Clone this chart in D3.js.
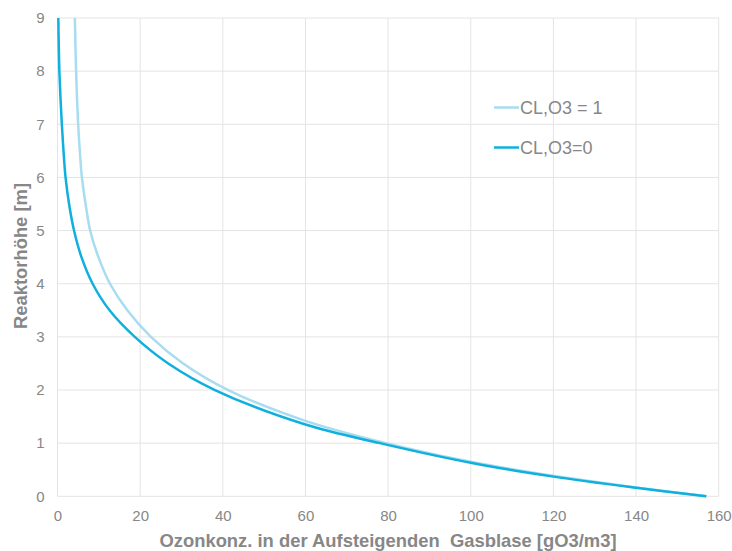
<!DOCTYPE html>
<html><head><meta charset="utf-8">
<script src="https://cdn.jsdelivr.net/npm/d3@7"></script>
<style>body{margin:0;background:#fff;}svg{display:block;font-family:"Liberation Sans",Arial,sans-serif;}</style>
</head><body>
<svg id="c" width="732" height="551"></svg>
<script>
const xTicks = [0,20,40,60,80,100,120,140,160];
const yTicks = [0,1,2,3,4,5,6,7,8,9];
const seriesNames = ["CL,O3 = 1", "CL,O3=0"];
// concentration (x) and height (y) pairs
const lightX = [157,140,120,100,79.5,60,41.3,30.4,22.6,16.9,12.7,9.9,7.9,6.8,5.9,5.4,5.0,4.5,4.2];
const lightY = [0,0.165,0.385,0.65,1,1.42,2,2.5,3,3.5,4,4.5,5,5.5,6,6.5,7,8,9];
const darkX = [157,140,120,100,78,60,38.1,26.8,18.7,12.6,8.5,5.8,4.0,2.8,1.95,1.45,1.05,0.72,0.45,0.3,0.2];
const darkY = [0,0.16,0.37,0.63,1,1.35,2,2.5,3,3.5,4,4.5,5,5.5,6,6.5,7,7.5,8,8.5,9];
const colors = ["#a8dcf0", "#0fb0dd"];

const svg = d3.select("#c");
const x = d3.scaleLinear().domain([0,160]).range([57.5,718.7]);
const y = d3.scaleLinear().domain([0,9]).range([496.3,18]);

const grid = svg.append("g");
grid.selectAll("line.v").data(xTicks).join("line")
  .attr("x1",d=>x(d)).attr("x2",d=>x(d)).attr("y1",y(9)).attr("y2",y(0))
  .attr("stroke","#e4e4e4").attr("stroke-width",1);
grid.selectAll("line.h").data(yTicks).join("line")
  .attr("x1",x(0)).attr("x2",x(160)).attr("y1",d=>y(d)).attr("y2",d=>y(d))
  .attr("stroke","#e4e4e4").attr("stroke-width",1);

const xAxis = svg.append("g").attr("transform",`translate(0,${y(0)})`)
  .call(d3.axisBottom(x).tickValues(xTicks).tickSize(0).tickPadding(14).tickFormat(d3.format("d")));
const yAxis = svg.append("g").attr("transform",`translate(${x(0)},0)`)
  .call(d3.axisLeft(y).tickValues(yTicks).tickSize(0).tickPadding(13).tickFormat(d3.format("d")));
[xAxis,yAxis].forEach(a=>{
  a.select(".domain").remove();
  a.selectAll("text").attr("fill","#878787").attr("font-size","15px").attr("font-family","Liberation Sans, Arial, sans-serif");
});

const line = d3.line().x(d=>x(d[0])).y(d=>y(d[1])).curve(d3.curveCatmullRom.alpha(0.5));
const sLight = lightX.map((v,i)=>[v,lightY[i]]).sort((a,b)=>a[1]-b[1]);
const sDark = darkX.map((v,i)=>[v,darkY[i]]).sort((a,b)=>a[1]-b[1]);
svg.append("path").datum(sLight).attr("d",line).attr("fill","none").attr("stroke",colors[0]).attr("stroke-width",2.5);
svg.append("path").datum(sDark).attr("d",line).attr("fill","none").attr("stroke",colors[1]).attr("stroke-width",2.5);

svg.append("text").attr("x",388).attr("y",547).attr("text-anchor","middle")
  .attr("font-size","18.4px").attr("font-weight","bold").attr("fill","#878787")
  .attr("xml:space","preserve")
  .text("Ozonkonz. in der Aufsteigenden  Gasblase [gO3/m3]");
svg.append("text").attr("transform","translate(27,256) rotate(-90)").attr("text-anchor","middle")
  .attr("font-size","18.4px").attr("font-weight","bold").attr("fill","#878787")
  .text("Reaktorhöhe [m]");

const leg = svg.append("g");
const legY = [107.5, 147.5];
seriesNames.forEach((n,i)=>{
  leg.append("line").attr("x1",494).attr("x2",519).attr("y1",legY[i]).attr("y2",legY[i])
    .attr("stroke",colors[i]).attr("stroke-width",2.5);
  leg.append("text").attr("x",520).attr("y",legY[i]+6.5).attr("font-size","18px").attr("fill","#878787").text(n);
});
</script>
</body></html>
